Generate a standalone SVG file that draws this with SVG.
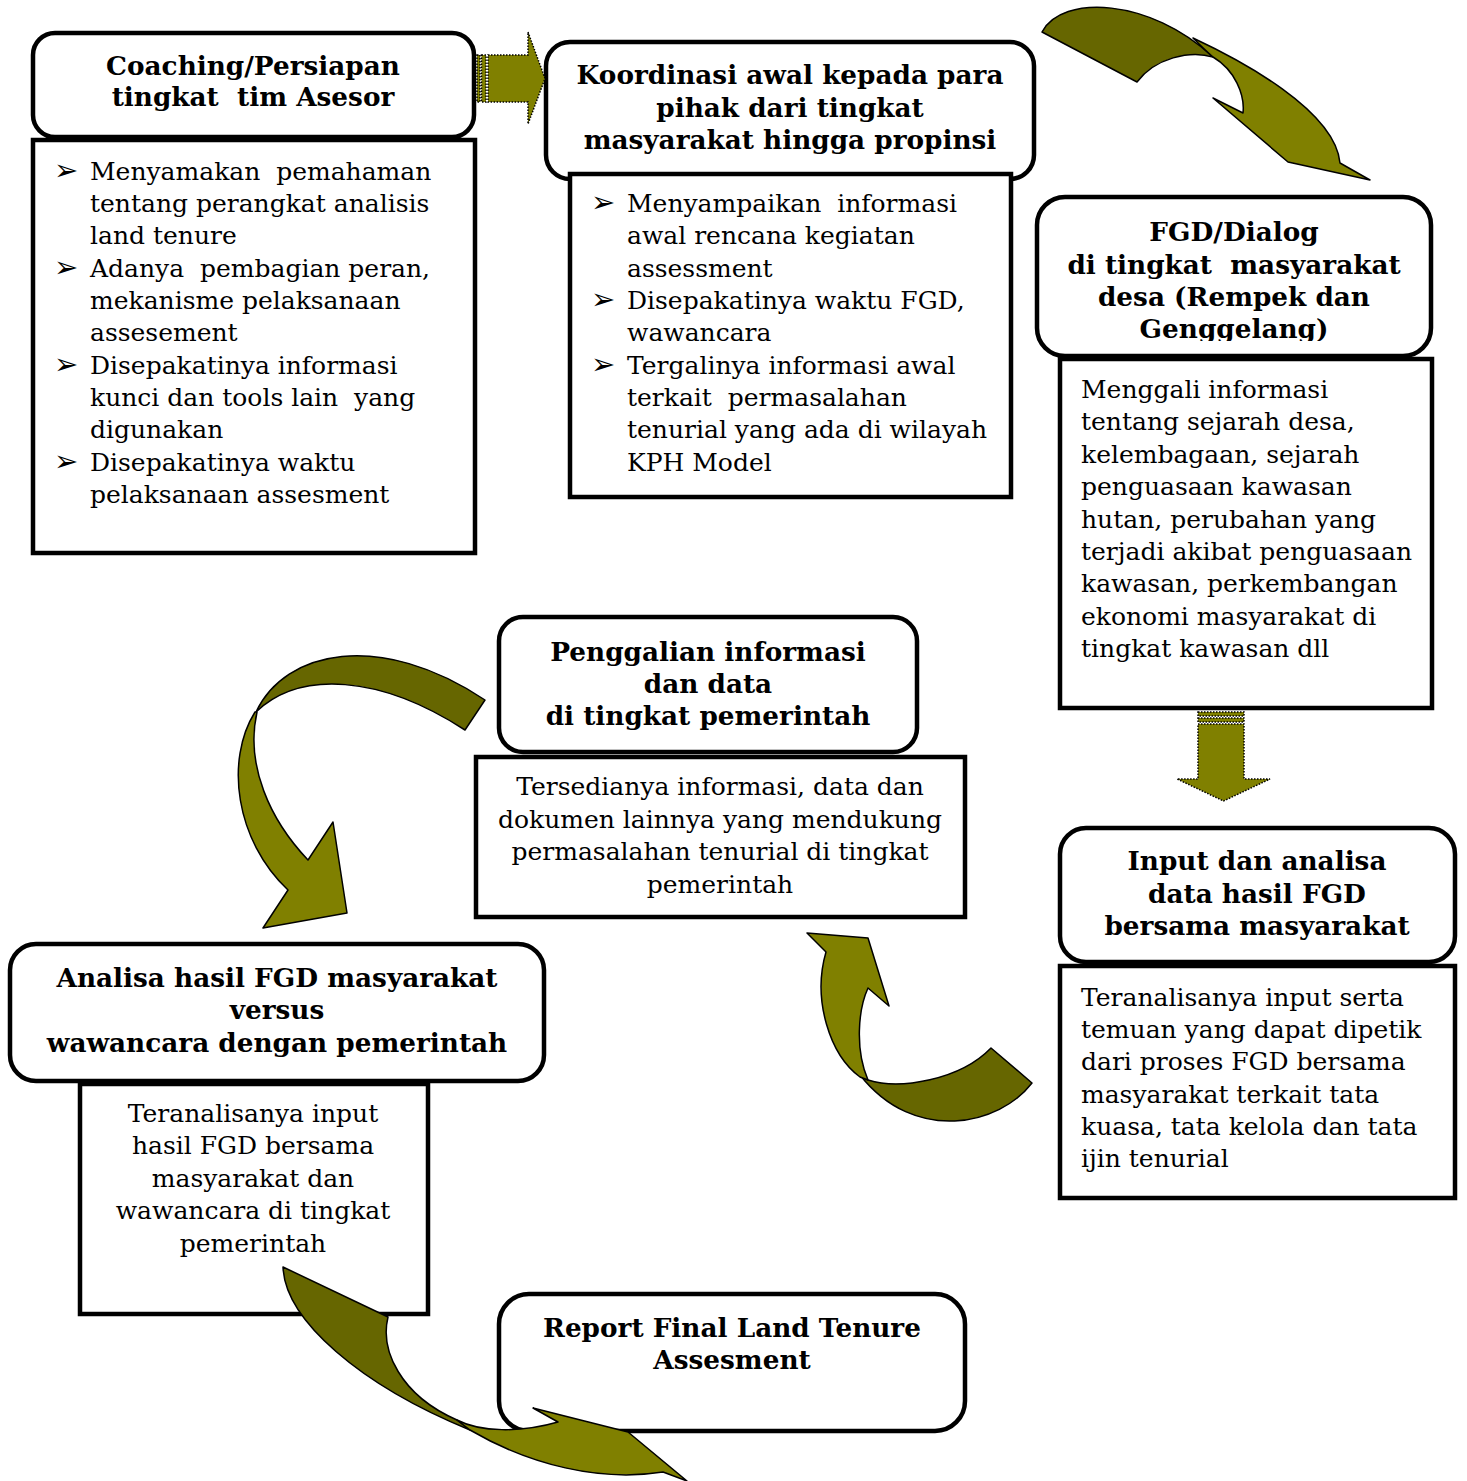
<svg xmlns="http://www.w3.org/2000/svg" width="1467" height="1481" viewBox="0 0 1467 1481">
<defs>
<style>
.hdr{fill:#fff;stroke:#000;stroke-width:4.5}
.body{fill:#fff;stroke:#000;stroke-width:4.5}
.h{font-family:"DejaVu Serif","Liberation Serif",serif;font-weight:bold;font-size:26.3px;fill:#000;text-anchor:middle}
.t{font-family:"DejaVu Serif","Liberation Serif",serif;font-size:25px;fill:#000}
.c{text-anchor:middle}
.b{font-family:"DejaVu Sans",sans-serif;font-size:29px;fill:#000}
.lt{fill:#808000;stroke:#000;stroke-width:1.5;stroke-linejoin:round}
.dk{fill:#666600;stroke:#000;stroke-width:1.5;stroke-linejoin:round}
.dot{fill:#808000;stroke:#000;stroke-width:1.5;stroke-dasharray:1.5 1.5}
</style>
<clipPath id="clip3"><rect x="1037" y="197" width="394" height="144"/></clipPath>
</defs>
<rect width="1467" height="1481" fill="#fff"/>

<g id="node-coaching">
<rect class="hdr" x="33" y="33" width="441" height="104" rx="22"/>
<rect class="body" x="33" y="140" width="442" height="413"/>
<text class="h" x="253" y="75">Coaching/Persiapan</text>
<text class="h" x="253" y="106" xml:space="preserve">tingkat  tim Asesor</text>
<text class="b" x="54" y="180">➢</text>
<text class="b" x="54" y="277">➢</text>
<text class="b" x="54" y="374">➢</text>
<text class="b" x="54" y="471">➢</text>
<text class="t" x="90" y="180" xml:space="preserve">Menyamakan  pemahaman</text>
<text class="t" x="90" y="212">tentang perangkat analisis</text>
<text class="t" x="90" y="244">land tenure</text>
<text class="t" x="90" y="277" xml:space="preserve">Adanya  pembagian peran,</text>
<text class="t" x="90" y="309">mekanisme pelaksanaan</text>
<text class="t" x="90" y="341">assesement</text>
<text class="t" x="90" y="374">Disepakatinya informasi</text>
<text class="t" x="90" y="406" xml:space="preserve">kunci dan tools lain  yang</text>
<text class="t" x="90" y="438">digunakan</text>
<text class="t" x="90" y="471">Disepakatinya waktu</text>
<text class="t" x="90" y="503">pelaksanaan assesment</text>
</g>

<g id="node-koordinasi">
<rect class="hdr" x="546" y="42" width="488" height="137" rx="24"/>
<rect class="body" x="570" y="174" width="441" height="323"/>
<text class="h" x="790" y="84">Koordinasi awal kepada para</text>
<text class="h" x="790" y="117">pihak dari tingkat</text>
<text class="h" x="790" y="149">masyarakat hingga propinsi</text>
<text class="b" x="591" y="212">➢</text>
<text class="b" x="591" y="309">➢</text>
<text class="b" x="591" y="374">➢</text>
<text class="t" x="627" y="212" xml:space="preserve">Menyampaikan  informasi</text>
<text class="t" x="627" y="244">awal rencana kegiatan</text>
<text class="t" x="627" y="277">assessment</text>
<text class="t" x="627" y="309">Disepakatinya waktu FGD,</text>
<text class="t" x="627" y="341">wawancara</text>
<text class="t" x="627" y="374">Tergalinya informasi awal</text>
<text class="t" x="627" y="406" xml:space="preserve">terkait  permasalahan</text>
<text class="t" x="627" y="438">tenurial yang ada di wilayah</text>
<text class="t" x="627" y="471">KPH Model</text>
</g>

<g id="node-fgd">
<rect class="hdr" x="1037" y="197" width="394" height="159" rx="28"/>
<rect class="body" x="1060" y="359" width="372" height="349"/>
<g clip-path="url(#clip3)">
<text class="h" x="1234" y="241">FGD/Dialog</text>
<text class="h" x="1234" y="274" xml:space="preserve">di tingkat  masyarakat</text>
<text class="h" x="1234" y="306">desa (Rempek dan</text>
<text class="h" x="1234" y="338">Genggelang)</text>
</g>
<text class="t" x="1081" y="398">Menggali informasi</text>
<text class="t" x="1081" y="430">tentang sejarah desa,</text>
<text class="t" x="1081" y="463">kelembagaan, sejarah</text>
<text class="t" x="1081" y="495">penguasaan kawasan</text>
<text class="t" x="1081" y="528">hutan, perubahan yang</text>
<text class="t" x="1081" y="560">terjadi akibat penguasaan</text>
<text class="t" x="1081" y="592">kawasan, perkembangan</text>
<text class="t" x="1081" y="625">ekonomi masyarakat di</text>
<text class="t" x="1081" y="657">tingkat kawasan dll</text>
</g>

<g id="node-input">
<rect class="hdr" x="1060" y="828" width="395" height="134" rx="26"/>
<rect class="body" x="1060" y="966" width="395" height="232"/>
<text class="h" x="1257" y="870">Input dan analisa</text>
<text class="h" x="1257" y="903">data hasil FGD</text>
<text class="h" x="1257" y="935">bersama masyarakat</text>
<text class="t" x="1081" y="1006">Teranalisanya input serta</text>
<text class="t" x="1081" y="1038">temuan yang dapat dipetik</text>
<text class="t" x="1081" y="1070">dari proses FGD bersama</text>
<text class="t" x="1081" y="1103">masyarakat terkait tata</text>
<text class="t" x="1081" y="1135">kuasa, tata kelola dan tata</text>
<text class="t" x="1081" y="1167">ijin tenurial</text>
</g>

<g id="node-penggalian">
<rect class="hdr" x="499" y="617" width="418" height="135" rx="24"/>
<rect class="body" x="476" y="757" width="489" height="160"/>
<text class="h" x="708" y="661">Penggalian informasi</text>
<text class="h" x="708" y="693">dan data</text>
<text class="h" x="708" y="725">di tingkat pemerintah</text>
<text class="t c" x="720" y="795">Tersedianya informasi, data dan</text>
<text class="t c" x="720" y="828">dokumen lainnya yang mendukung</text>
<text class="t c" x="720" y="860">permasalahan tenurial di tingkat</text>
<text class="t c" x="720" y="893">pemerintah</text>
</g>

<g id="node-analisa">
<rect class="body" x="80" y="1084" width="348" height="230"/>
<rect class="hdr" x="10" y="944" width="534" height="137" rx="26"/>
<text class="h" x="277" y="987">Analisa hasil FGD masyarakat</text>
<text class="h" x="277" y="1019">versus</text>
<text class="h" x="277" y="1052">wawancara dengan pemerintah</text>
<text class="t c" x="253" y="1122">Teranalisanya input</text>
<text class="t c" x="253" y="1154">hasil FGD bersama</text>
<text class="t c" x="253" y="1187">masyarakat dan</text>
<text class="t c" x="253" y="1219">wawancara di tingkat</text>
<text class="t c" x="253" y="1252">pemerintah</text>
</g>

<g id="node-report">
<rect class="hdr" x="499" y="1294" width="466" height="137" rx="30"/>
<text class="h" x="732" y="1337">Report Final Land Tenure</text>
<text class="h" x="732" y="1369">Assesment</text>
</g>

<g id="connectors">
<g id="arrow-1">
<rect class="dot" x="477" y="55" width="3" height="47"/>
<rect class="dot" x="481.5" y="55" width="4.5" height="47"/>
<polygon class="dot" points="488,55 528,55 528,32 545,78.5 528,124 528,102 488,102"/>
</g>
<g id="arrow-2">
<path class="dk" d="M1042,32 C1062,-6 1150,-2 1213,57 C1190,50 1155,58 1137,82 Z"/>
<path class="lt" d="M1193,38 C1240,60 1335,110 1340,163 L1370,180 L1288,162 L1213,98 L1243,113 C1245,95 1235,70 1213,57 C1205,50 1198,43 1193,38 Z"/>
</g>
<g id="arrow-3">
<rect class="dot" x="1198" y="712" width="46" height="4"/>
<rect class="dot" x="1198" y="718" width="46" height="4"/>
<polygon class="dot" points="1198,724 1244,724 1244,779 1270,779 1223.5,801 1177,779 1198,779"/>
</g>
<g id="arrow-4">
<path class="dk" d="M868,1080 C900,1090 960,1080 991,1048 L1032,1083 C1000,1125 915,1145 860,1075 Z"/>
<path class="lt" d="M826,952 L807,933 L868,938 L889,1006 L868,988 C858,1010 855,1050 868,1080 L860,1077 C830,1055 812,1000 826,952 Z"/>
</g>
<g id="arrow-5">
<path class="dk" d="M256,712 C285,650 380,630 485,700 L465,730 C380,675 300,670 256,712 Z"/>
<path class="lt" d="M255,712 C225,760 235,840 288,890 L263,928 L347,913 L333,822 L308,860 C270,820 245,765 257,712 Z"/>
</g>
<g id="arrow-6">
<path class="dk" d="M283,1267 L388,1317 C380,1350 400,1395 457,1420 L470,1430 C360,1385 285,1320 283,1267 Z"/>
<path class="lt" d="M457,1420 C480,1432 520,1433 558,1422 L533,1408 L628,1432 L687,1481 L663,1472 C600,1482 530,1465 470,1430 Z"/>
</g>
</g>
</svg>
